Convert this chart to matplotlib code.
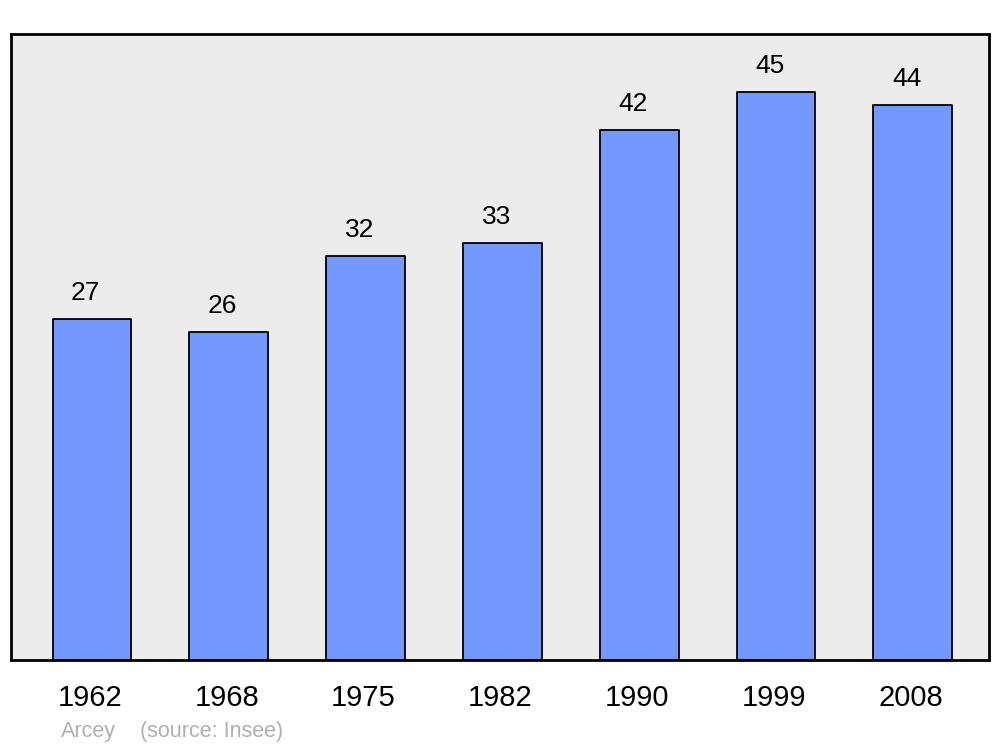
import matplotlib.pyplot as plt
from matplotlib.transforms import ScaledTranslation

# Population data
years = ["1962", "1968", "1975", "1982", "1990", "1999", "2008"]
population = [27, 26, 32, 33, 42, 45, 44]
town = "Arcey"
source = "(source: Insee)"

plt.rcParams['font.family'] = ['Liberation Sans', 'DejaVu Sans']

fig = plt.figure(figsize=(10, 7.47), dpi=100)
ax = fig.add_axes([0.011, 0.1165, 0.978, 0.838])
ax.set_facecolor('#ececec')

x = list(range(len(years)))
bars = ax.bar(x, population, width=0.577, color='#7399ff', edgecolor='black',
              linewidth=1.3, zorder=2)
for b in bars:
    b.set_joinstyle('round')

# Value labels above bars
for xi, v in zip(x, population):
    ax.text(xi - 0.045, v + 1.12, str(v), ha='center', va='bottom', fontsize=19)

ax.set_xlim(-0.592, 6.557)
ax.set_ylim(0, 49.6)
ax.set_yticks([])
ax.set_xticks(x)
ax.set_xticklabels(years, fontsize=21)
ax.tick_params(axis='x', length=0, pad=17)
shift = ScaledTranslation(-2 / 100, 0, fig.dpi_scale_trans)
for lbl in ax.get_xticklabels():
    lbl.set_transform(lbl.get_transform() + shift)
for s in ax.spines.values():
    s.set_linewidth(2)
    s.set_joinstyle('round')

fig.text(0.061, 0.021, town, color='#b0b0b0', fontsize=15.5, ha='left', va='center')
fig.text(0.140, 0.021, source, color='#b0b0b0', fontsize=15.5, ha='left', va='center')

fig.savefig('out.png', dpi=100)
